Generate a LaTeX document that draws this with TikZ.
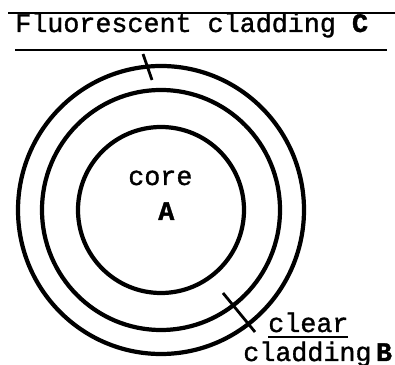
\documentclass[tikz,border=0pt]{standalone}
\usepackage{fontspec}
\newfontfamily\labelfont[FakeBold=1.2, BoldFeatures={FakeBold=1.5}]{Liberation Mono}
\begin{document}
\begin{tikzpicture}[x=0.025cm, y=-0.025cm,
    ring/.style={line width=3pt},
    rule/.style={line width=1.4pt},
    leader/.style={line width=2pt},
    lbl/.style={font=\labelfont\fontsize{19}{21}\selectfont, inner sep=0pt}]
    \useasboundingbox (0,0) rectangle (395,365);
    % fibre cross section
    \coordinate (centre) at (161,210);
    \draw[ring] (centre) circle (83);
    \draw[ring] (centre) ellipse (119 and 120);
    \draw[ring] (centre) ellipse (143 and 144);
    % core label
    \node[lbl, anchor=base west] (core) at (128,185) {core};
    \node[lbl, anchor=base west] (coreA) at (158,220) {\textbf{A}};
    % top label
    \draw[rule] (8,13) -- (395,13);
    \node[lbl, anchor=base west] (fluor) at (15,32) {Fluorescent cladding \textbf{C}};
    \draw[rule] (15,50) -- (387,50);
    \coordinate (ctop) at (143,54);
    \coordinate (cbot) at (152,80);
    \draw[leader] (ctop) -- (cbot);
    % bottom label
    \coordinate (btop) at (223,293);
    \coordinate (bbot) at (255,332);
    \draw[leader] (btop) -- (bbot);
    \node[lbl, anchor=base west] (clear) at (268,332) {clear};
    \draw[rule] (268,337) -- (348,337);
    \node[lbl, anchor=base west] (clad) at (243,361) {cladding\,\textbf{B}};
\end{tikzpicture}
\end{document}
